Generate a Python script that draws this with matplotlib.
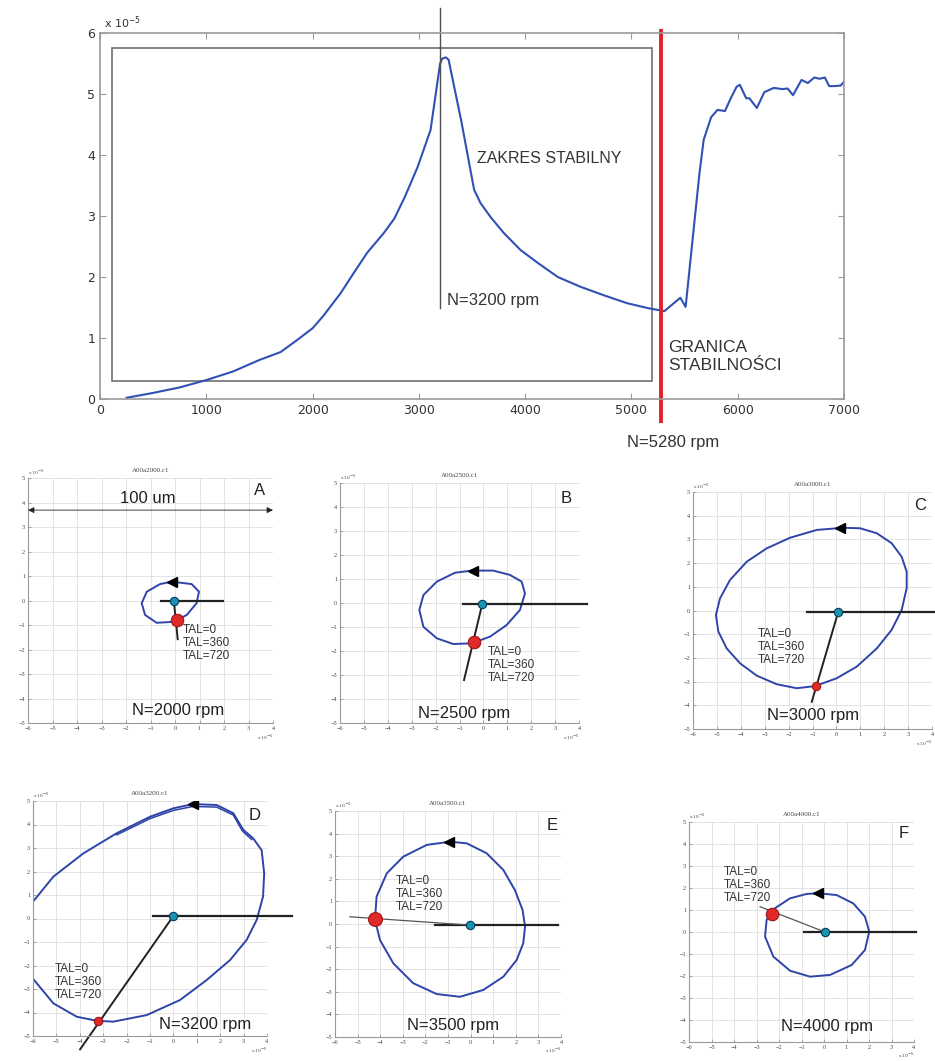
import numpy as np
import matplotlib.pyplot as plt
from matplotlib.patches import Rectangle

plt.rcParams['font.family'] = ['Liberation Sans', 'DejaVu Sans']

W, H = 935, 1061

# amplitude vs. speed (amplitude in units of 1e-5)
rpm = [250, 500, 750, 1000, 1250, 1500, 1700, 1857, 2000, 2100,
       2262, 2385, 2515, 2670, 2770, 2870, 2990, 3110, 3200, 3220,
       3255, 3280, 3400, 3520, 3581, 3676, 3800, 3958, 4120, 4307,
       4520, 4741, 4960, 5155, 5280, 5310, 5460, 5510, 5640, 5680,
       5750, 5810, 5880, 5940, 5990, 6020, 6080, 6110, 6180, 6250,
       6340, 6420, 6470, 6520, 6600, 6660, 6720, 6770, 6820, 6860,
       6920, 6970, 7000]
amp_e5 = [0.02, 0.10, 0.19, 0.31, 0.45, 0.64, 0.77, 0.97, 1.16, 1.36,
          1.73, 2.06, 2.40, 2.72, 2.96, 3.32, 3.81, 4.41, 5.50, 5.58,
          5.60, 5.56, 4.55, 3.43, 3.21, 2.98, 2.72, 2.44, 2.23, 2.00,
          1.84, 1.70, 1.57, 1.49, 1.45, 1.44, 1.66, 1.51, 3.70, 4.25,
          4.62, 4.74, 4.72, 4.95, 5.12, 5.15, 4.93, 4.93, 4.77, 5.03,
          5.10, 5.08, 5.09, 4.98, 5.23, 5.18, 5.27, 5.25, 5.27, 5.13,
          5.13, 5.14, 5.20]
resonance_rpm = 3200
stab_limit_rpm = 5280

# journal orbits (units of 1e-5)
panel_ids = ['A', 'B', 'C', 'D', 'E', 'F']
panel_rpm = [2000, 2500, 3000, 3200, 3500, 4000]
panel_files = ['A00a2000.c1', 'A00a2500.c1', 'A00a3000.c1',
               'A00a3200.c1', 'A00a3500.c1', 'A00a4000.c1']

orbit_A_x = [-0.13, 0.68, 0.98, 0.88, 0.48, -0.06, -0.75, -1.22, -1.36, -1.15, -0.61]
orbit_A_y = [0.77, 0.67, 0.36, -0.11, -0.59, -0.87, -0.91, -0.59, -0.11, 0.36, 0.67]
orbit_B_x = [-0.49, -1.19, -1.95, -2.51, -2.68, -2.51, -1.95, -1.26, -0.49, 0.28,
             0.97, 1.53, 1.74, 1.60, 1.11, 0.41]
orbit_B_y = [1.35, 1.26, 0.89, 0.33, -0.29, -0.99, -1.47, -1.71, -1.68, -1.40,
             -0.92, -0.29, 0.40, 0.89, 1.17, 1.35]
orbit_C_x = [0.29, -0.82, -1.94, -2.92, -3.75, -4.45, -4.87, -5.04, -4.94, -4.59,
             -4.03, -3.33, -2.50, -1.66, -0.90, 0.01, 0.85, 1.69, 2.31, 2.73,
             2.94, 2.94, 2.73, 2.31, 1.69, 0.99]
orbit_C_y = [3.49, 3.40, 3.07, 2.62, 2.06, 1.29, 0.51, -0.19, -0.89, -1.60,
             -2.23, -2.75, -3.11, -3.28, -3.19, -2.86, -2.37, -1.60, -0.82, 0.02,
             0.94, 1.64, 2.27, 2.84, 3.26, 3.47]
orbit_D_x = [-6.3, -5.13, -3.85, -2.42, -1.00, 0.00, 0.85, 1.85, 2.56, 2.99,
             3.41, 3.77, 3.88, 3.83, 3.56, 3.13, 2.42, 1.42, 0.28, -1.14,
             -2.57, -3.28, -4.13, -5.13, -6.3]
orbit_D_y = [0.35, 1.78, 2.77, 3.63, 4.33, 4.69, 4.87, 4.83, 4.48, 3.77,
             3.41, 2.91, 1.92, 0.93, -0.06, -0.91, -1.77, -2.62, -3.47, -4.11,
             -4.39, -4.35, -4.18, -3.61, -2.20]
orbit_D2_x = [-2.42, -1.00, 0.00, 0.85, 1.85, 2.56, 2.95, 3.35]
orbit_D2_y = [3.56, 4.25, 4.60, 4.77, 4.74, 4.40, 3.72, 3.36]
orbit_E_x = [-0.91, -0.17, 0.71, 1.45, 1.96, 2.30, 2.41, 2.33, 2.04, 1.45,
             0.56, -0.47, -1.50, -2.54, -3.42, -4.01, -4.23, -4.16, -3.71, -2.98,
             -1.94]
orbit_E_y = [3.64, 3.57, 3.13, 2.39, 1.50, 0.62, -0.12, -0.85, -1.59, -2.33,
             -2.92, -3.22, -3.10, -2.62, -1.74, -0.71, 0.18, 1.21, 2.24, 2.98,
             3.50]
orbit_F_x = [-0.25, 0.56, 1.30, 1.82, 2.01, 1.82, 1.23, 0.27, -0.62, -1.51,
             -2.25, -2.62, -2.55, -2.18, -1.51, -0.77]
orbit_F_y = [1.76, 1.68, 1.30, 0.70, 0.02, -0.82, -1.50, -1.95, -2.03, -1.76,
             -1.12, -0.21, 0.55, 1.08, 1.53, 1.73]

orbits = [(orbit_A_x, orbit_A_y, True), (orbit_B_x, orbit_B_y, True),
          (orbit_C_x, orbit_C_y, True), (orbit_D_x, orbit_D_y, False),
          (orbit_E_x, orbit_E_y, True), (orbit_F_x, orbit_F_y, True)]

center_x = [-0.05, -0.05, 0.08, 0.00, -0.03, 0.04]
center_y = [0.00, -0.05, -0.05, 0.11, -0.05, 0.00]
tal_x = [0.08, -0.38, -0.85, -3.21, -4.24, -2.32]
tal_y = [-0.80, -1.64, -3.19, -4.35, 0.22, 0.80]
arrow_x = [-0.13, -0.45, 0.15, 0.85, -0.95, -0.25]
arrow_y = [0.77, 1.35, 3.49, 4.87, 3.64, 1.76]
radial_x = [0.11, -0.81, -1.03, -3.99, -5.34, -2.84]
radial_y = [-1.58, -3.21, -3.85, -5.57, 0.32, 1.15]
shaft_x0 = [-0.58, -0.85, -1.24, -0.86, -1.58, -0.89]
shaft_x1 = [1.97, 4.32, 4.60, 5.06, 3.88, 4.09]

fig = plt.figure(figsize=(W / 100, H / 100), dpi=100)


def px_axes(x0, y0, x1, y1):
    return fig.add_axes([x0 / W, 1 - y1 / H, (x1 - x0) / W, (y1 - y0) / H])


############################ amplitude curve ############################
gray = '#9a9a9a'
ax = px_axes(100, 33, 844, 399)
ax.plot(rpm, amp_e5, color='#3050b4', lw=1.5)
ax.set_xlim(0, 7000)
ax.set_ylim(0, 6)
ax.set_xticks(range(0, 7001, 1000))
ax.set_yticks(range(0, 7))
ax.tick_params(direction='in', top=True, right=True, length=4, color=gray,
               labelsize=9, labelcolor='#333333', labelfontfamily='DejaVu Sans')
for s in ax.spines.values():
    s.set_color(gray)
    s.set_linewidth(1.2)
ax.text(0.005, 1.005, 'x 10$^{-5}$', transform=ax.transAxes, fontsize=8,
        family='DejaVu Sans', color='#333333', ha='left', va='bottom')

ax.add_patch(Rectangle((113, 0.30), 5190 - 113, 5.75 - 0.30, fill=False,
                       ec='#707070', lw=1.2))
ax.plot([resonance_rpm, resonance_rpm], [1.49, 6.41], color='#505050', lw=1.0,
        clip_on=False)
ax.plot([stab_limit_rpm, stab_limit_rpm], [-0.39, 6.07], color='#e32028', lw=2.8,
        clip_on=False, solid_capstyle='butt')
ax.text(3264, 1.62, 'N=%d rpm' % resonance_rpm, fontsize=12, color='#333333',
        ha='left', va='center')
ax.text(3547, 3.95, 'ZAKRES STABILNY', fontsize=11.5, color='#333333',
        ha='left', va='center')
ax.text(5343, 0.70, 'GRANICA\nSTABILNOŚCI', fontsize=12.5, color='#333333',
        ha='left', va='center', linespacing=1.25)
ax.text(5390, -0.72, 'N=%d rpm' % stab_limit_rpm, fontsize=12, color='#333333',
        ha='center', va='center', clip_on=False)

############################ orbit panels ############################
boxes = [(28, 478, 273, 723), (340, 483, 579, 723), (693, 492, 932, 729),
         (33, 801, 267, 1036), (335, 811, 561, 1037), (689, 822, 914, 1042)]
tal_text_pos = [(0.31, -0.95), (0.18, -1.80), (-3.27, -0.75),
                (-5.06, -1.90), (-3.30, 2.17), (-4.44, 3.00)]
n_label_pos = [(0.11, -4.50), (-0.80, -4.60), (-0.97, -4.45),
               (1.35, -4.53), (-0.77, -4.47), (0.15, -4.30)]
letter_pos = [(3.47, 4.51), (3.48, 4.36), (3.50, 4.45),
              (3.49, 4.40), (3.59, 4.38), (3.52, 4.49)]
red_size = [9, 9, 6, 6, 10, 9]
thin_radial = [False, False, False, False, True, True]

for i, box in enumerate(boxes):
    a = px_axes(*box)
    a.set_xlim(-6, 4)
    a.set_ylim(-5, 5)
    a.set_xticks(range(-6, 5))
    a.set_yticks(range(-5, 6))
    a.grid(color='#dedede', lw=0.6)
    a.set_axisbelow(True)
    a.tick_params(direction='in', length=2, width=0.5, color='#888888',
                  labelsize=4.5, labelcolor='#444444', pad=2,
                  labelfontfamily='Liberation Serif')
    for side in ['top', 'right']:
        a.spines[side].set_visible(False)
    for side in ['left', 'bottom']:
        a.spines[side].set_color('#999999')
        a.spines[side].set_linewidth(0.8)
    a.set_title(panel_files[i], fontsize=5, family='Liberation Serif',
                color='#444444', pad=4)
    a.text(0.0, 1.005, 'x 10$^{-5}$', transform=a.transAxes, fontsize=3.8,
           family='Liberation Serif', color='#444444', ha='left', va='bottom')
    a.text(1.0, -0.06, 'x 10$^{-5}$', transform=a.transAxes, fontsize=3.8,
           family='Liberation Serif', color='#444444', ha='right', va='center')

    ox, oy, closed = orbits[i]
    if closed:
        ox = np.append(ox, ox[0])
        oy = np.append(oy, oy[0])
    a.plot(ox, oy, color='#2f44a8', lw=1.4, solid_joinstyle='round')
    if panel_ids[i] == 'D':
        a.plot(orbit_D2_x, orbit_D2_y, color='#2f44a8', lw=1.1)

    a.plot([shaft_x0[i], shaft_x1[i]], [center_y[i], center_y[i]],
           color='#222222', lw=1.6, clip_on=False)
    if thin_radial[i]:
        a.plot([radial_x[i], center_x[i]], [radial_y[i], center_y[i]],
               color='#555555', lw=0.9)
    else:
        a.plot([center_x[i], radial_x[i]], [center_y[i], radial_y[i]],
               color='#222222', lw=1.4, clip_on=False)
    a.plot(arrow_x[i], arrow_y[i], marker='<', ms=7, color='black', zorder=5)
    a.plot(center_x[i], center_y[i], marker='o', ms=6, mfc='#1893b0',
           mec='#0b3b5c', mew=0.8, zorder=6)
    a.plot(tal_x[i], tal_y[i], marker='o', ms=red_size[i], mfc='#e02a2a',
           mec='#a01515', mew=0.8, zorder=6)

    tx, ty = tal_text_pos[i]
    a.text(tx, ty, 'TAL=0\nTAL=360\nTAL=720', fontsize=8.5, color='#333333',
           ha='left', va='top', linespacing=1.1)
    nx, ny = n_label_pos[i]
    a.text(nx, ny, 'N=%d rpm' % panel_rpm[i], fontsize=12, color='#222222',
           ha='center', va='center')
    lx, ly = letter_pos[i]
    a.text(lx, ly, panel_ids[i], fontsize=12, color='#222222',
           ha='center', va='center')

    if panel_ids[i] == 'A':
        a.annotate('', xy=(-6, 3.69), xytext=(4, 3.69),
                   arrowprops=dict(arrowstyle='<|-|>', color='#222222', lw=0.6,
                                   mutation_scale=9, shrinkA=0, shrinkB=0),
                   annotation_clip=False)
        a.text(-1.11, 4.17, '100 um', fontsize=12, color='#222222',
               ha='center', va='center')

fig.savefig('out.png', dpi=100)
